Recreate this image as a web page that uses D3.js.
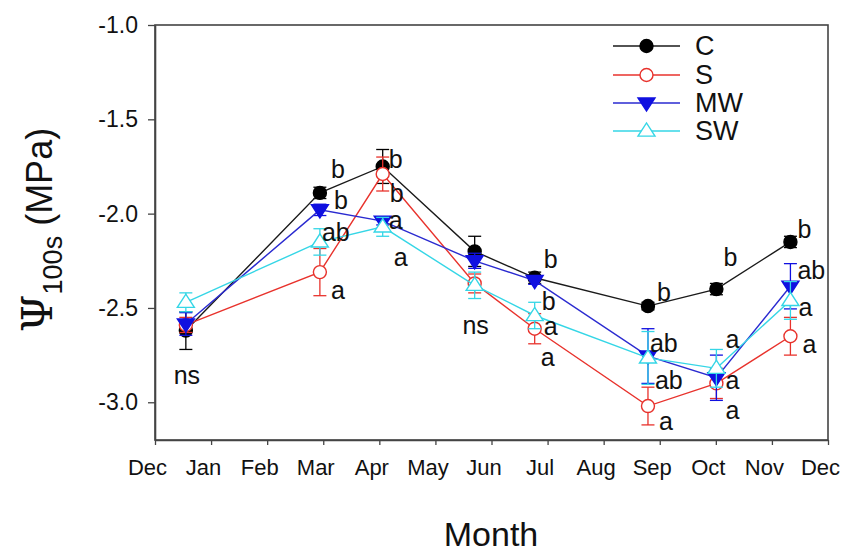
<!DOCTYPE html>
<html>
<head>
<meta charset="utf-8">
<script src="https://cdn.jsdelivr.net/npm/d3@7"></script>
<style>
  html, body { margin: 0; padding: 0; background: #fff; }
  svg { display: block; }
  text { font-family: "Liberation Sans", Arial, sans-serif; fill: #111; }
</style>
</head>
<body>
<svg id="chart" width="848" height="554"></svg>
<script>
// ---------------- data ----------------
const monthLabels = ["Dec","Jan","Feb","Mar","Apr","May","Jun","Jul","Aug","Sep","Oct","Nov","Dec"];
const yTicks = [-1.0, -1.5, -2.0, -2.5, -3.0];
// sampling dates as position on the month axis (0 = Dec, 12 = next Dec)
const sampleMonth = [0.55, 2.94, 4.06, 5.70, 6.77, 8.79, 10.01, 11.33];

const seriesNames = ["C", "S", "MW", "SW"];
const valC  = [-2.62, -1.89, -1.75, -2.20, -2.34, -2.49, -2.40, -2.15];
const valS  = [-2.59, -2.31, -1.79, -2.37, -2.61, -3.02, -2.90, -2.65];
const valMW = [-2.585, -1.98, -2.04, -2.25, -2.355, -2.755, -2.87, -2.385];
const valSW = [-2.47, -2.15, -2.07, -2.38, -2.54, -2.765, -2.82, -2.46];

const errC  = [0.10, 0.03, 0.09, 0.08, 0.03, 0.02, 0.03, 0.03];
const errS  = [0.04, 0.125, 0.09, 0.05, 0.08, 0.10, 0.08, 0.10];
const errMW = [0.06, 0.03, 0.02, 0.04, 0.02, 0.145, 0.12, 0.12];
const errSW = [0.05, 0.07, 0.05, 0.07, 0.07, 0.14, 0.10, 0.10];

const letC  = ["", "b", "b", "", "b", "b", "b", "b"];
const letS  = ["", "a", "b", "", "a", "a", "a", "a"];
const letMW = ["", "b", "a", "", "b", "ab", "a", "ab"];
const letSW = ["", "ab", "a", "", "a", "ab", "a", "a"];
const groupNote = ["ns", "", "", "ns", "", "", "", ""];

// ---------------- layout / style ----------------
const M = { left: 155, right: 828, top: 25, bottom: 440 };
const styles = {
  C:  { color: "#000000", line: "#1a1a1a", marker: "circle",   fill: "#000000" },
  S:  { color: "#e8322c", line: "#e8322c", marker: "circle",   fill: "#ffffff" },
  MW: { color: "#1010e0", line: "#2a2ad0", marker: "triDown",  fill: "#1010e0" },
  SW: { color: "#35d6e6", line: "#35d6e6", marker: "triUp",    fill: "#ffffff" }
};
// letter label offsets (px) relative to each point: [dx, dy]
const labelOffsets = {
  C:  [[0,0],[11,-24],[6,-7],[0,0],[9,-19],[9,-14],[7,-32],[7,-13]],
  S:  [[0,0],[11,18],[7,19],[0,0],[6,28],[11,15],[9,27],[12,8]],
  MW: [[0,0],[14,-10],[6,-1],[0,0],[7,20],[2,-13],[9,2],[7,-16]],
  SW: [[0,0],[2,-10],[11,30],[0,0],[9,10],[7,22],[9,-29],[8,7]]
};

const series = [
  { name: "C",  vals: valC,  errs: errC,  lets: letC },
  { name: "S",  vals: valS,  errs: errS,  lets: letS },
  { name: "MW", vals: valMW, errs: errMW, lets: letMW },
  { name: "SW", vals: valSW, errs: errSW, lets: letSW }
];

const svg = d3.select("#chart");
const x = d3.scaleLinear().domain([0, 12]).range([M.left, M.right]);
const y = d3.scaleLinear().domain([-3.2, -1.0]).range([M.bottom, M.top]);

// frame
svg.append("rect")
  .attr("x", M.left).attr("y", M.top)
  .attr("width", M.right - M.left).attr("height", M.bottom - M.top)
  .attr("fill", "none").attr("stroke", "#444").attr("stroke-width", 1.6);

// y axis
const yAxis = d3.axisLeft(y).tickValues(yTicks).tickFormat(d3.format(".1f")).tickSize(7).tickSizeOuter(0);
const gy = svg.append("g").attr("transform", `translate(${M.left},0)`).call(yAxis);
gy.attr("font-size", null).attr("font-family", null);
gy.select(".domain").attr("stroke", "#444").attr("stroke-width", 1.6);
gy.selectAll(".tick line").attr("stroke", "#444").attr("stroke-width", 1.3);
gy.selectAll(".tick text")
  .attr("x", -17)
  .style("font-family", "'Liberation Sans', Arial, sans-serif")
  .style("font-size", "23px").attr("fill", "#111")
  .text(d => d3.format(".1f")(d).replace("−", "-"));

// x axis
const xAxis = d3.axisBottom(x).tickValues(d3.range(0, 13)).tickFormat((d, i) => monthLabels[i]).tickSize(5).tickSizeOuter(0);
const gx = svg.append("g").attr("transform", `translate(0,${M.bottom})`).call(xAxis);
gx.attr("font-size", null).attr("font-family", null);
gx.select(".domain").attr("stroke", "#444").attr("stroke-width", 1.6);
gx.selectAll(".tick line").attr("stroke", "#444").attr("stroke-width", 1.3);
gx.selectAll(".tick text")
  .attr("dx", -8).attr("y", 19)
  .style("font-family", "'Liberation Sans', Arial, sans-serif")
  .style("font-size", "22px").attr("fill", "#111");

// axis titles
svg.append("text")
  .attr("x", 491).attr("y", 546)
  .attr("text-anchor", "middle")
  .style("font-size", "34px")
  .text("Month");

const yt = svg.append("text")
  .attr("transform", "translate(52,230) rotate(-90)")
  .attr("text-anchor", "middle");
yt.append("tspan").style("font-family", "'DejaVu Serif', 'Liberation Serif', serif").style("font-size", "43px").text("Ψ");
yt.append("tspan").attr("dy", 10).style("font-size", "27px").text("100s");
yt.append("tspan").attr("dy", -10).style("font-size", "36px").text(" (MPa)");

// marker drawing helper
function drawMarker(g, type, cx, cy, st) {
  if (type === "circle") {
    g.append("circle").attr("cx", cx).attr("cy", cy).attr("r", 6.5)
      .attr("fill", st.fill).attr("stroke", st.color).attr("stroke-width", 1.4);
  } else {
    const s = 8.5;
    const pts = type === "triDown"
      ? [[cx - s, cy - s * 0.6], [cx + s, cy - s * 0.6], [cx, cy + s * 0.95]]
      : [[cx - s, cy + s * 0.6], [cx + s, cy + s * 0.6], [cx, cy - s * 0.95]];
    g.append("path").attr("d", d3.line()(pts) + "Z")
      .attr("fill", st.fill).attr("stroke", st.color).attr("stroke-width", 1.4);
  }
}

const plot = svg.append("g");
series.forEach(s => {
  const st = styles[s.name];
  const g = plot.append("g");
  const pts = s.vals.map((v, i) => ({ x: sampleMonth[i], v, e: s.errs[i] }));
  // error bars
  pts.forEach(p => {
    const px = x(p.x);
    g.append("line").attr("x1", px).attr("x2", px).attr("y1", y(p.v - p.e)).attr("y2", y(p.v + p.e))
      .attr("stroke", st.color).attr("stroke-width", 1.3);
    [p.v - p.e, p.v + p.e].forEach(ev => {
      g.append("line").attr("x1", px - 6.5).attr("x2", px + 6.5).attr("y1", y(ev)).attr("y2", y(ev))
        .attr("stroke", st.color).attr("stroke-width", 1.3);
    });
  });
  // line
  g.append("path").datum(pts)
    .attr("d", d3.line().x(d => x(d.x)).y(d => y(d.v)))
    .attr("fill", "none").attr("stroke", st.line).attr("stroke-width", 1.4);
  // markers
  pts.forEach(p => drawMarker(g, st.marker, x(p.x), y(p.v), st));
});

// letters
series.forEach(s => {
  s.lets.forEach((t, i) => {
    if (!t) return;
    const off = labelOffsets[s.name][i];
    svg.append("text")
      .attr("x", x(sampleMonth[i]) + off[0])
      .attr("y", y(s.vals[i]) + off[1])
      .attr("dominant-baseline", "central")
      .style("font-size", "25px")
      .text(t);
  });
});
// ns notes (below the cluster)
groupNote.forEach((t, i) => {
  if (!t) return;
  const lowest = d3.min(series, s => s.vals[i] - s.errs[i]);
  svg.append("text")
    .attr("x", x(sampleMonth[i]) + 1)
    .attr("y", y(lowest) + 26)
    .attr("text-anchor", "middle")
    .attr("dominant-baseline", "central")
    .style("font-size", "25px")
    .text(t);
});

// legend
const legRows = [46, 75, 103, 131];
const lg = svg.append("g");
seriesNames.forEach((n, i) => {
  const st = styles[n];
  const yy = legRows[i];
  lg.append("line").attr("x1", 613).attr("x2", 680).attr("y1", yy).attr("y2", yy)
    .attr("stroke", st.line).attr("stroke-width", 1.4);
  drawMarker(lg, st.marker, 646.5, yy, st);
  lg.append("text").attr("x", 695).attr("y", yy).attr("dominant-baseline", "central")
    .style("font-size", "27px").text(n);
});
</script>
</body>
</html>
